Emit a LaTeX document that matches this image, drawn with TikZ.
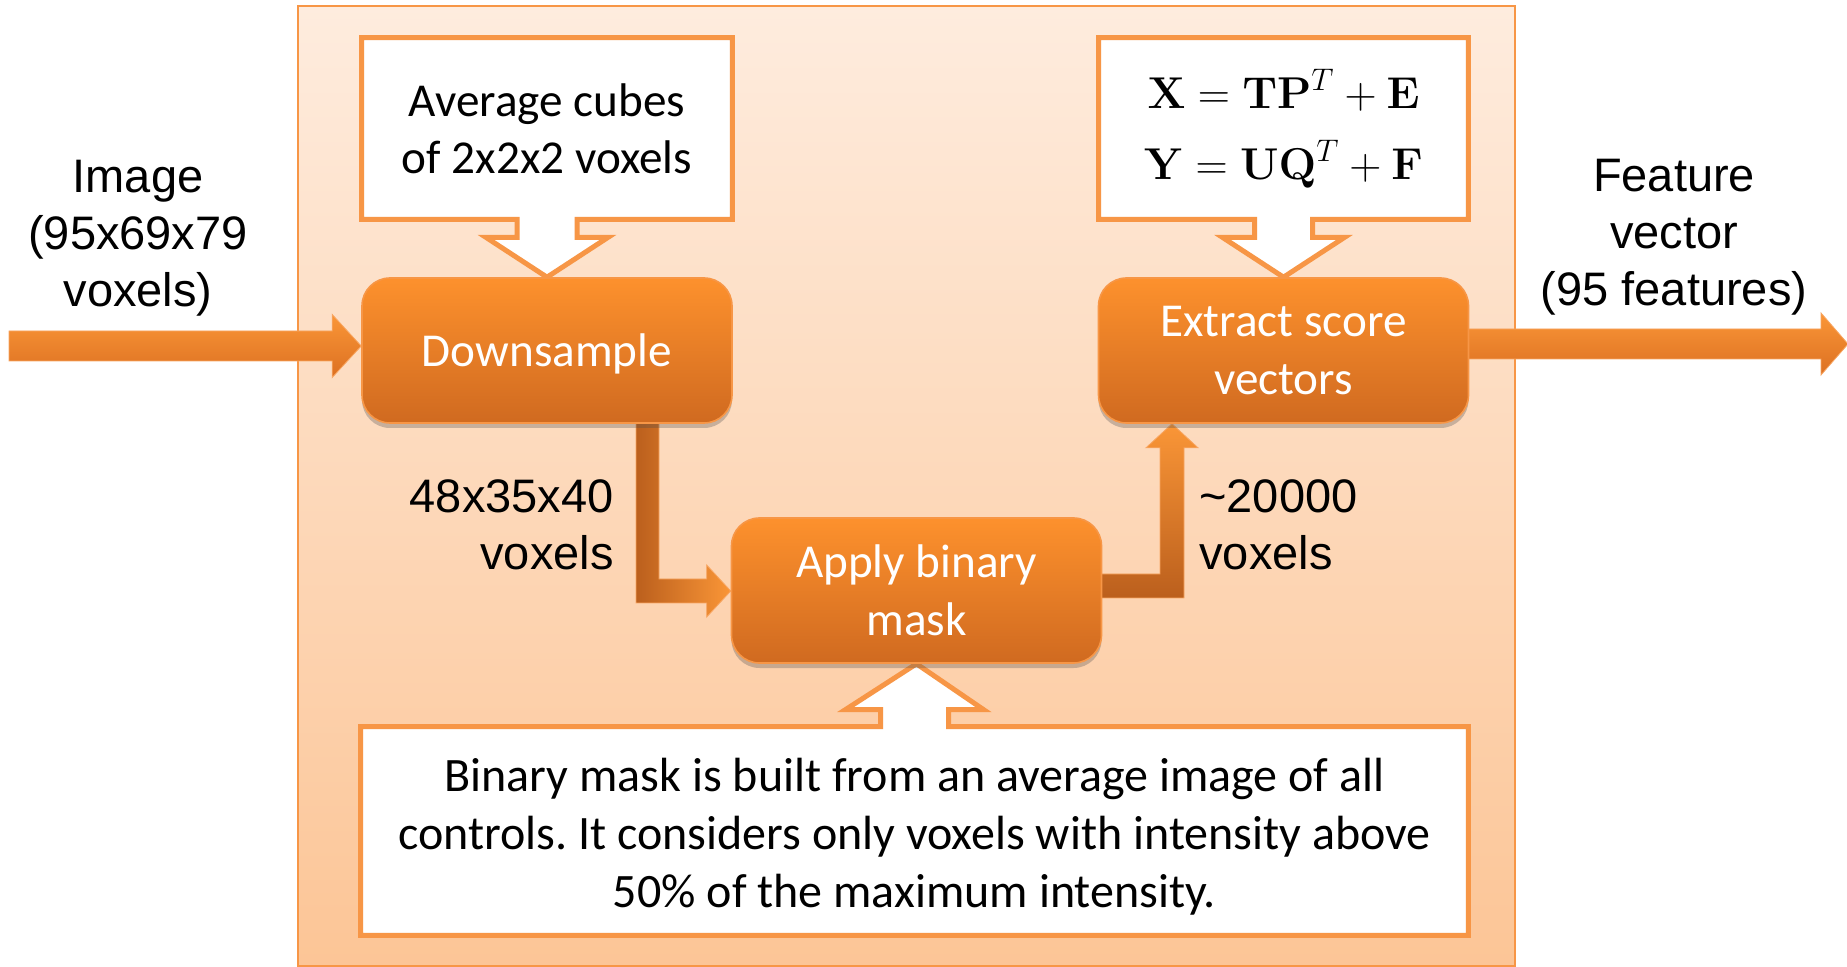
\RequirePackage{fix-cm}
\documentclass[tikz,border=0pt]{standalone}
\usepackage[no-math]{fontspec}
\setmainfont{Carlito}
\newfontfamily\arialf{Liberation Sans}
\usetikzlibrary{calc,shadows}
\frenchspacing
\definecolor{bgtop}{RGB}{254,236,222}
\definecolor{bgbot}{RGB}{252,197,150}
\definecolor{oline}{RGB}{247,150,70}
\definecolor{boxtop}{RGB}{253,145,45}
\definecolor{boxbot}{RGB}{208,106,32}
\definecolor{arrA}{RGB}{250,150,55}
\definecolor{arrB}{RGB}{220,112,34}
\pgfdeclarelayer{back}
\pgfdeclarelayer{mid}
\pgfsetlayers{back,mid,main}
\tikzset{
  procbox/.style={rounded corners=14pt, top color=boxtop, bottom color=boxbot,
    draw=oline, line width=0.8pt, text=white,
    font=\fontsize{23.6}{29}\selectfont, align=center,
    minimum width=185pt, minimum height=72.5pt, inner sep=0pt,
    drop shadow={shadow xshift=0pt,shadow yshift=-2.5pt,opacity=0.3,fill=black!70}},
  callbox/.style={inner sep=0pt, align=center, text=black,
    font=\fontsize{23.6}{28.5}\selectfont},
  callline/.style={draw=oline, fill=white, line width=2.5pt, line join=miter},
  fatarrow/.style={draw=oline!85, line width=0.4pt},
  lbl/.style={font=\arialf\fontsize{23.5}{28.5}\selectfont, align=center, inner sep=0pt}
}
\begin{document}
\begin{tikzpicture}[x=0.5pt,y=-0.5pt]
\useasboundingbox (0,0) rectangle (1847,967);

% background panel
\begin{pgfonlayer}{back}
\fill[white] (0,0) rectangle (1847,967);
\draw[top color=bgtop, bottom color=bgbot, draw=oline, line width=1pt] (298,6) rectangle (1515,966);
\end{pgfonlayer}

% process boxes
\node[procbox, text depth=0.5pt] (ds) at (547,350.5) {Downsample};
\node[procbox] (ex) at (1283.5,350.5) {Extract score\\vectors};
\node[procbox] (ap) at (916.5,590.5) {Apply binary\\mask};

% callout texts
\node[callbox, minimum width=185pt, minimum height=90.5pt] (c1) at (547,128.5) {Average cubes\\of 2x2x2 voxels};
\node[callbox, minimum width=184.5pt, minimum height=90.5pt, font=\fontsize{22.3}{35.5}\selectfont] (c2) at (1283.5,128.5)
  {$\mathbf{X}=\mathbf{TP}^{T}+\mathbf{E}$\\$\mathbf{Y}=\mathbf{UQ}^{T}+\mathbf{F}$};
\node[callbox, minimum width=553.5pt, minimum height=104pt] (c3) at (914.5,831) {};
\node[callbox, font=\fontsize{24}{29}\selectfont] (c3t) at (914.5,837)
  {Binary mask is built from an average image of all\\controls. It considers only voxels with intensity above\\50\% of the maximum intensity.};

% side labels
\node[lbl] (limg) at (138,238) {Image\\(95x69x79\\voxels)};
\node[lbl] (lfeat) at (1674,237) {Feature\\vector\\(95 features)};
\node[lbl, align=right, anchor=east] (l48) at (614,525) {48x35x40\\voxels};
\node[lbl, align=left, anchor=west] (l20) at (1199,525) {\textasciitilde20000\\voxels};

\coordinate (inS) at (9,346);
\coordinate (outT) at (1848,344);
\coordinate (e1) at ($(ds.south)+(100.5,0)$);
\coordinate (e1t) at ($(ap.west)+(0,0.5)$);
\coordinate (e2) at ($(ex.south)+(-111.5,0)$);
\coordinate (e2s) at ($(ap.east)+(0,-4.5)$);

\begin{pgfonlayer}{mid}
% callout outlines
\draw[callline] (c1.south west) -- (c1.north west) -- (c1.north east) -- (c1.south east)
  -- ($(c1.south)+(30,0)$) -- ($(c1.south)+(30,18)$) -- ($(c1.south)+(61,18)$) -- (ds.north)
  -- ($(c1.south)+(-61,18)$) -- ($(c1.south)+(-30,18)$) -- ($(c1.south)+(-30,0)$) -- cycle;
\draw[callline] (c2.south west) -- (c2.north west) -- (c2.north east) -- (c2.south east)
  -- ($(c2.south)+(29,0)$) -- ($(c2.south)+(29,18)$) -- ($(c2.south)+(61,18)$) -- (ex.north)
  -- ($(c2.south)+(-61,18)$) -- ($(c2.south)+(-29,18)$) -- ($(c2.south)+(-29,0)$) -- cycle;
\draw[callline] (c3.north west) -- ($(c3.north)+(-34,0)$) -- ($(c3.north)+(-34,-17)$)
  -- ($(c3.north)+(-69,-17)$) -- (ap.south) -- ($(c3.north)+(69,-17)$) -- ($(c3.north)+(34,-17)$)
  -- ($(c3.north)+(34,0)$) -- (c3.north east) -- (c3.south east) -- (c3.south west) -- cycle;

% input arrow
\draw[fatarrow, top color=arrA, bottom color=arrB]
  ($(inS)+(0,-15)$) -- ($(inS -| ds.west)+(-29,-15)$) -- ($(inS -| ds.west)+(-29,-31.5)$)
  -- (inS -| ds.west) -- ($(inS -| ds.west)+(-29,31.5)$) -- ($(inS -| ds.west)+(-29,15)$)
  -- ($(inS)+(0,15)$) -- cycle;
% output arrow
\draw[fatarrow, top color=arrA, bottom color=arrB]
  ($(outT -| ex.east)+(-10,-15)$) -- ($(outT)+(-27,-15)$) -- ($(outT)+(-27,-31)$)
  -- (outT) -- ($(outT)+(-27,31)$) -- ($(outT)+(-27,15)$)
  -- ($(outT -| ex.east)+(-10,15)$) -- cycle;
% downsample -> apply mask
\draw[fatarrow, left color=arrB!85!black, right color=arrA]
  ($(e1)+(-11.5,-8)$) -- ($(e1 |- e1t)+(-11.5,12)$) -- ($(e1t)+(-24,12)$) -- ($(e1t)+(-24,26)$)
  -- (e1t) -- ($(e1t)+(-24,-26)$) -- ($(e1t)+(-24,-12)$) -- ($(e1 |- e1t)+(11.5,-12)$)
  -- ($(e1)+(11.5,-8)$) -- cycle;
% apply mask -> extract
\draw[fatarrow, top color=arrA, bottom color=arrB!85!black]
  ($(e2s)+(-8,-12)$) -- ($(e2 |- e2s)+(-12,-12)$) -- ($(e2)+(-12,24)$) -- ($(e2)+(-26,24)$)
  -- (e2) -- ($(e2)+(26,24)$) -- ($(e2)+(12,24)$) -- ($(e2 |- e2s)+(12,12)$)
  -- ($(e2s)+(-8,12)$) -- cycle;
\end{pgfonlayer}
\end{tikzpicture}
\end{document}
